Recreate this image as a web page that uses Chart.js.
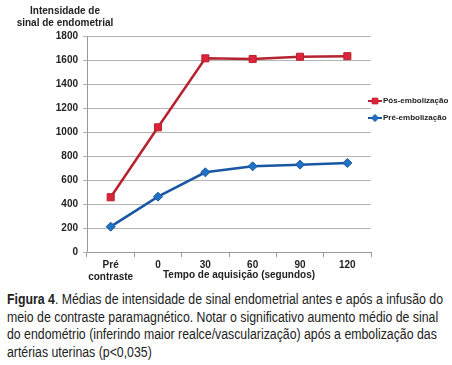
<!DOCTYPE html>
<html><head><meta charset="utf-8">
<script src="https://cdn.jsdelivr.net/npm/chart.js@4"></script>
<style>
html,body{margin:0;padding:0;background:#fff;width:452px;height:365px;overflow:hidden}
#wrap{position:absolute;left:0;top:0;width:452px;height:285px}
#cap{position:absolute;left:7px;top:291px;font-family:"Liberation Sans",Arial,sans-serif;font-size:14px;line-height:17.7px;color:#222;transform-origin:0 0;white-space:nowrap}
#cap div{white-space:nowrap}
</style></head>
<body>
<div id="wrap"><canvas id="c" width="452" height="285"></canvas></div>
<div id="cap">
<div><b>Figura 4</b>. Médias de intensidade de sinal endometrial antes e após a infusão do</div>
<div>meio de contraste paramagnético. Notar o significativo aumento médio de sinal</div>
<div>do endométrio (inferindo maior realce/vascularização) após a embolização das</div>
<div>artérias uterinas (p&lt;0,035)</div>
</div>
<script>
const categories = [["Pré","contraste"], "0", "30", "60", "90", "120"];
const posEmbolizacao = [456, 1039, 1614, 1608, 1627, 1632];
const preEmbolizacao = [211, 461, 664, 714, 728, 742];
const seriesNames = ["Pós-embolização", "Pré-embolização"];
const yTitle = ["Intensidade de", "sinal de endometrial"];
const xTitle = "Tempo de aquisição (segundos)";

// condense caption to the reference width
(function(){
  const cap = document.getElementById('cap');
  const first = cap.querySelector('div');
  const r = document.createRange(); r.selectNodeContents(first);
  const w = r.getBoundingClientRect().width;
  cap.style.transform = 'scaleX(' + (436 / w) + ')';
})();

const FONT = '"Liberation Sans", Arial, sans-serif';
const RED_LINE = '#b52330', RED_PT = '#dc2339';
const BLUE_LINE = '#1a57a3', BLUE_PT = '#1f72c4';

const extras = {
  id: 'extras',
  afterDraw(chart) {
    const ctx = chart.ctx;
    ctx.save();
    ctx.fillStyle = '#222';
    ctx.font = 'bold 10px ' + FONT;
    ctx.textAlign = 'center';
    ctx.textBaseline = 'middle';
    ctx.fillText(yTitle[0], 65, 11);
    ctx.fillText(yTitle[1], 65, 23);
    ctx.fillText(xTitle, 239, 275);
    const items = [
      {name: seriesNames[0], y: 101, line: RED_LINE, pt: RED_PT, style: 'rect'},
      {name: seriesNames[1], y: 118, line: BLUE_LINE, pt: BLUE_PT, style: 'rectRot'}
    ];
    ctx.font = 'bold 8px ' + FONT;
    ctx.textAlign = 'left';
    for (const it of items) {
      ctx.strokeStyle = it.line; ctx.lineWidth = 2;
      ctx.beginPath(); ctx.moveTo(368, it.y); ctx.lineTo(382, it.y); ctx.stroke();
      ctx.fillStyle = it.pt; ctx.strokeStyle = it.line; ctx.lineWidth = 1;
      Chart.helpers.drawPoint(ctx, {pointStyle: it.style, radius: it.style === 'rect' ? 4 : 3.5, borderWidth: 1}, 375, it.y);
      ctx.fill();
      ctx.fillStyle = '#222';
      ctx.fillText(it.name, 383, it.y);
    }
    ctx.restore();
  }
};

new Chart(document.getElementById('c'), {
  type: 'line',
  data: {
    labels: categories,
    datasets: [
      {label: seriesNames[0], data: posEmbolizacao, borderColor: RED_LINE, backgroundColor: RED_PT,
       pointBackgroundColor: RED_PT, pointBorderColor: RED_LINE, pointStyle: 'rect', pointRadius: 5, pointBorderWidth: 1,
       borderWidth: 2.5, tension: 0},
      {label: seriesNames[1], data: preEmbolizacao, borderColor: BLUE_LINE, backgroundColor: BLUE_PT,
       pointBackgroundColor: BLUE_PT, pointBorderColor: BLUE_LINE, pointStyle: 'rectRot', pointRadius: 4.5, pointBorderWidth: 1,
       borderWidth: 2.5, tension: 0}
    ]
  },
  options: {
    responsive: false,
    animation: false,
    layout: {padding: {left: 0, right: 81, top: 36, bottom: 0}},
    plugins: {legend: {display: false}, tooltip: {enabled: false}},
    scales: {
      x: {
        type: 'category', offset: true,
        grid: {drawOnChartArea: false, drawTicks: true, tickLength: 5, offset: true, color: '#999'},
        border: {color: '#999'},
        ticks: {color: '#222', font: {family: FONT, size: 10, weight: 'bold'}, padding: 2, maxRotation: 0, autoSkip: false},
        afterFit(s) { s.height = 33; }
      },
      y: {
        min: 0, max: 1800,
        grid: {color: '#b4b4b4', tickLength: 4},
        border: {color: '#999'},
        ticks: {stepSize: 200, color: '#222', font: {family: FONT, size: 10, weight: 'bold'}, padding: 5,
                callback: v => String(v)},
        afterFit(s) { s.width = 87; }
      }
    }
  },
  plugins: [extras]
});
</script>
</body></html>
